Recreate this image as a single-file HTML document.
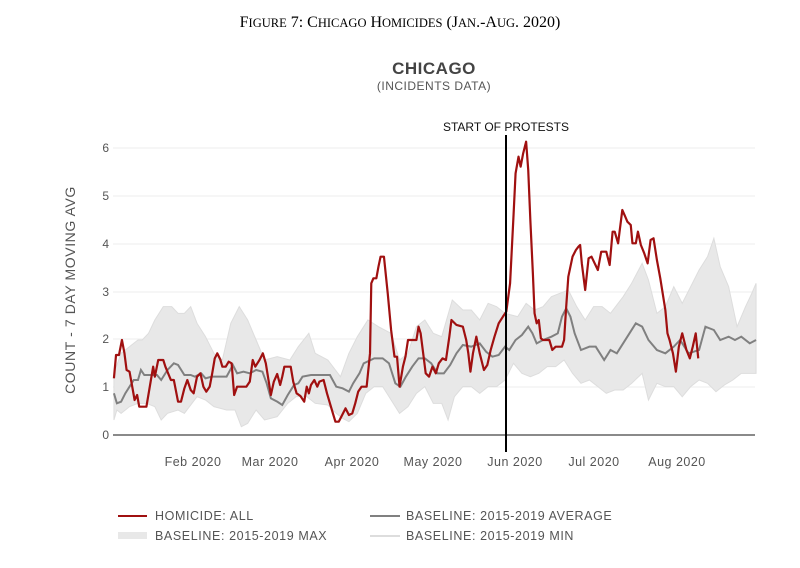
<!DOCTYPE html>
<html><head><meta charset="utf-8"><style>
body{margin:0;background:#fff;width:800px;height:568px;overflow:hidden}
svg{display:block}
text{font-family:"Liberation Sans",sans-serif}
</style></head><body>
<svg width="800" height="568" viewBox="0 0 800 568">
<text x="400" y="27" text-anchor="middle" style="font-family:'Liberation Serif',serif;font-size:16px" fill="#000">F<tspan font-size="12.5">IGURE</tspan> 7: C<tspan font-size="12.5">HICAGO</tspan> H<tspan font-size="12.5">OMICIDES</tspan> (J<tspan font-size="12.5">AN</tspan>.-A<tspan font-size="12.5">UG</tspan>. 2020)</text>
<text x="434" y="74" text-anchor="middle" font-size="17" font-weight="bold" fill="#444" letter-spacing="0.5">CHICAGO</text>
<text x="434" y="90" text-anchor="middle" font-size="12" fill="#555" letter-spacing="0.5">(INCIDENTS DATA)</text>
<text transform="translate(75,290) rotate(-90)" text-anchor="middle" font-size="14" fill="#555" letter-spacing="0.6">COUNT - 7 DAY MOVING AVG</text>
<g stroke="#eee" stroke-width="1">
<line x1="113" x2="755" y1="387" y2="387"/><line x1="113" x2="755" y1="339" y2="339"/><line x1="113" x2="755" y1="292" y2="292"/><line x1="113" x2="755" y1="244" y2="244"/><line x1="113" x2="755" y1="196" y2="196"/><line x1="113" x2="755" y1="148" y2="148"/>
</g>
<g font-size="12" fill="#555" text-anchor="end">
<text x="109" y="439">0</text><text x="109" y="391">1</text><text x="109" y="343">2</text><text x="109" y="296">3</text><text x="109" y="248">4</text><text x="109" y="200">5</text><text x="109" y="152">6</text>
</g>
<g transform="translate(100,120) scale(0.4219,0.33333)">
<polygon fill="#e8e8e8" stroke="#ddd" stroke-width="1" vector-effect="non-scaling-stroke" points="33,760 50,700 70,680 90,660 100,660 115,640 130,600 150,560 170,560 185,580 200,580 215,560 230,610 250,650 270,700 290,720 310,610 330,560 350,600 370,660 390,720 420,710 450,720 470,680 495,640 510,700 540,720 570,770 590,700 610,650 635,600 660,620 690,640 710,720 730,700 750,620 770,600 790,640 810,650 835,540 860,570 880,570 900,600 920,550 940,560 960,580 990,590 1010,550 1030,570 1050,560 1070,530 1090,520 1110,510 1130,560 1150,600 1170,560 1190,560 1210,580 1240,530 1260,490 1285,430 1300,480 1320,580 1340,560 1360,500 1380,550 1400,500 1420,450 1440,410 1455,355 1470,440 1490,500 1510,620 1530,560 1545,520 1555,490 1555,760 1540,760 1520,760 1500,780 1480,795 1460,815 1440,790 1420,780 1400,800 1380,830 1360,800 1340,800 1320,790 1300,840 1285,760 1260,790 1240,810 1220,810 1200,820 1180,800 1160,780 1140,790 1120,760 1100,720 1080,740 1060,740 1040,760 1020,770 1000,760 980,730 960,780 940,800 920,800 900,820 880,800 860,800 840,830 825,900 810,850 790,850 770,800 750,820 730,860 710,880 690,840 670,800 650,800 630,820 610,880 590,905 575,895 560,880 540,855 510,850 490,830 465,830 445,850 420,890 390,900 370,870 350,910 335,920 320,870 300,870 270,860 250,840 230,830 200,880 185,870 160,880 145,900 130,860 110,850 90,850 70,860 50,880 40,870 33,900"/>
<polyline fill="none" stroke="#808080" stroke-width="2" vector-effect="non-scaling-stroke" points="33,820 40,850 50,845 60,820 70,800 80,780 90,780 97,750 105,765 120,765 135,765 145,780 160,750 175,730 185,735 200,765 215,765 225,770 240,760 250,775 265,770 280,770 300,770 315,735 325,760 340,755 355,760 370,750 385,755 395,790 405,835 420,845 432,855 445,825 460,795 470,790 480,770 500,765 520,765 545,765 560,800 575,805 590,815 600,790 615,760 625,730 650,715 670,715 685,730 700,790 712,800 725,770 740,740 755,715 770,715 785,730 800,760 815,760 830,735 845,700 860,675 880,680 900,670 915,695 930,710 945,705 960,680 970,690 985,660 1000,645 1015,620 1025,640 1035,670 1050,660 1070,650 1085,640 1095,590 1105,565 1115,590 1125,640 1140,690 1160,680 1175,680 1195,720 1210,690 1225,700 1240,670 1255,640 1270,610 1285,620 1300,660 1320,690 1340,700 1360,680 1375,660 1395,700 1420,690 1435,620 1455,630 1470,660 1490,650 1505,660 1520,650 1540,670 1555,660"/>
<polyline fill="none" stroke="#a01010" stroke-width="2.2" vector-effect="non-scaling-stroke" stroke-linejoin="round" points="33,775 38,705 45,705 52,660 58,700 63,750 70,755 75,790 82,840 88,825 93,860 103,860 110,860 118,800 126,740 130,770 138,720 150,720 155,740 168,780 175,780 185,845 192,845 200,805 207,780 215,810 222,820 230,770 238,760 245,800 252,815 260,800 266,760 272,715 278,700 285,718 290,740 298,740 305,725 312,730 318,825 325,800 347,800 355,785 362,720 368,740 378,720 386,700 393,730 400,785 405,825 412,785 420,762 427,795 432,770 437,740 452,740 458,785 466,820 475,828 484,845 490,800 495,820 500,795 508,780 515,800 520,785 530,780 538,820 545,850 552,880 558,905 566,905 574,885 582,865 590,885 598,880 605,850 612,815 620,800 632,800 640,700 643,490 648,475 655,475 660,440 665,410 673,410 682,520 690,630 698,710 704,710 710,800 718,740 724,710 730,660 750,660 755,620 760,640 765,690 772,760 780,770 788,740 796,760 803,730 812,715 820,720 828,650 833,600 845,615 860,620 868,660 873,700 878,755 884,700 892,650 900,700 910,750 918,735 926,690 935,650 945,610 955,590 963,575 972,490 980,290 985,160 992,110 997,140 1003,100 1010,65 1015,150 1020,300 1026,460 1030,580 1035,610 1040,600 1045,655 1050,660 1065,660 1072,690 1080,680 1095,680 1100,660 1105,560 1110,470 1120,410 1128,390 1134,380 1138,375 1142,430 1150,510 1158,415 1165,410 1180,450 1188,395 1200,395 1208,435 1215,335 1220,335 1228,370 1238,270 1245,290 1250,305 1258,315 1262,370 1270,370 1275,335 1282,375 1290,400 1298,430 1305,360 1312,355 1320,420 1328,475 1340,570 1345,640 1350,660 1358,700 1365,755 1372,680 1380,640 1385,665 1390,690 1398,715 1405,680 1412,640 1418,715"/>
</g>
<line x1="113" x2="755" y1="435" y2="435" stroke="#444" stroke-width="1.2"/>
<line x1="506" x2="506" y1="135" y2="452" stroke="#000" stroke-width="2"/>
<text x="506" y="131" text-anchor="middle" font-size="12" fill="#111">START OF PROTESTS</text>
<g font-size="12.5" fill="#555" text-anchor="middle" letter-spacing="0.5">
<text x="193" y="466">Feb 2020</text><text x="270" y="466">Mar 2020</text><text x="352" y="466">Apr 2020</text><text x="433" y="466">May 2020</text><text x="515" y="466">Jun 2020</text><text x="594" y="466">Jul 2020</text><text x="677" y="466">Aug 2020</text>
</g>
<g font-size="12.5" fill="#555" letter-spacing="0.6">
<line x1="118" x2="147" y1="516" y2="516" stroke="#a01010" stroke-width="2"/>
<text x="155" y="520">HOMICIDE: ALL</text>
<rect x="118" y="532" width="29" height="7" fill="#e8e8e8"/>
<text x="155" y="540">BASELINE: 2015-2019 MAX</text>
<line x1="370" x2="400" y1="516" y2="516" stroke="#808080" stroke-width="2"/>
<text x="406" y="520">BASELINE: 2015-2019 AVERAGE</text>
<line x1="370" x2="400" y1="536" y2="536" stroke="#ddd" stroke-width="2"/>
<text x="406" y="540">BASELINE: 2015-2019 MIN</text>
</g>
</svg>
</body></html>
